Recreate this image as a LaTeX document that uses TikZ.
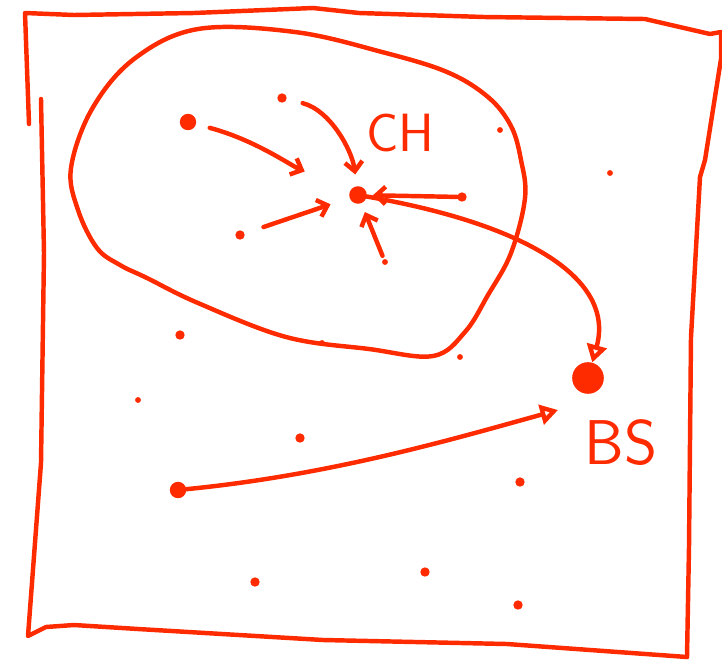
\documentclass[tikz,border=0pt]{standalone}
\usepackage{tikz}
\usetikzlibrary{arrows.meta,positioning}
\definecolor{sketchred}{RGB}{255,43,0}

\begin{document}
\begin{tikzpicture}[x=0.03cm,y=-0.03cm,line cap=round,line join=round,
  >={Straight Barb[length=8pt,width=15pt]},
  pen/.style={draw=sketchred,line width=3.8pt},
  sensor/.style={circle,fill=sketchred,inner sep=0pt,minimum size=8pt},
  speck/.style={circle,fill=sketchred,inner sep=0pt,minimum size=5pt},
  member/.style={circle,fill=sketchred,inner sep=0pt,minimum size=14pt},
  head/.style={circle,fill=sketchred,inner sep=0pt,minimum size=15pt},
  sink/.style={circle,fill=sketchred,inner sep=0pt,minimum size=27pt},
  tag/.style={text=sketchred,font=\sffamily\fontsize{46}{46}\selectfont,inner sep=0pt}]
\useasboundingbox (0,0) rectangle (722,660);
% field border
\draw[pen] (29,124) -- (25,13) -- (74,15) -- (194,13) -- (313,8) -- (359,13) -- (484,17) -- (645,19) -- (710,34) -- (721,32);
\draw[pen] (721,34) -- (721,59) -- (705,160) -- (700,177) -- (691,337) -- (689,547) -- (687,657);
\draw[pen] (41,99) -- (44,253) -- (41,463) -- (28,636) -- (46,627) -- (74,625) -- (138,629) -- (323,640) -- (507,644) -- (687,657);
% cluster
\draw[pen] plot[smooth cycle,tension=0.6] coordinates {(198,29) (295,32) (382,52) (447,72) (488,97) (511,126) (521,160) (525,198) (511,253) (488,295) (465,332) (433,356) (369,349) (286,337) (198,303) (147,278) (120,265) (97,248) (78,210) (71,168) (92,109) (134,59)};
% nodes
\node[head] (ch) at (358,195) {};
\node[member] (m1) at (188,122) {};
\node[sensor] (m2) at (282,98) {};
\node[sensor] (m3) at (240,235) {};
\node[sensor] (m4) at (462,197) {};
\node[speck] (m5) at (385,262) {};
\node[member] (m6) at (178,490) {};
\node[sink] (bs) at (588,378) {};
\coordinate (bsin) at (558,410);
\foreach \p [count=\i] in {(180,335),(300,438),(520,482),(255,582),(425,572),(518,605)}
  \node[sensor] (s\i) at \p {};
\foreach \p [count=\i] in {(500,130),(610,173),(322,343),(460,357),(138,400)}
  \node[speck] (t\i) at \p {};
\node[tag,above right=1.1cm and 0.05cm of ch] (chlabel) {CH};
\node[tag,font=\sffamily\fontsize{54}{54}\selectfont,below right=0.9cm and -0.45cm of bs] (bslabel) {BS};
% links
\draw[pen,->,shorten <=12pt,shorten >=42pt] (m1) .. controls (255,140) and (290,165) .. (ch);
\draw[pen,->,shorten <=14pt,shorten >=10pt] (m2) .. controls (330,110) and (352,150) .. (ch);
\draw[pen,->,shorten <=17pt,shorten >=17pt] (m3) -- (ch);
\draw[pen,->,shorten >=5pt] (m4) -- (ch);
\draw[pen,->,shorten <=3pt,shorten >=8pt] (m5) -- (ch);
\draw[pen,-{Triangle[open,length=15pt,width=17pt]}] (ch) .. controls (530,225) and (615,280) .. (bs);
\draw[pen,-{Triangle[open,length=15pt,width=17pt]}] (m6) .. controls (330,475) and (450,440) .. (bsin);
\end{tikzpicture}
\end{document}
